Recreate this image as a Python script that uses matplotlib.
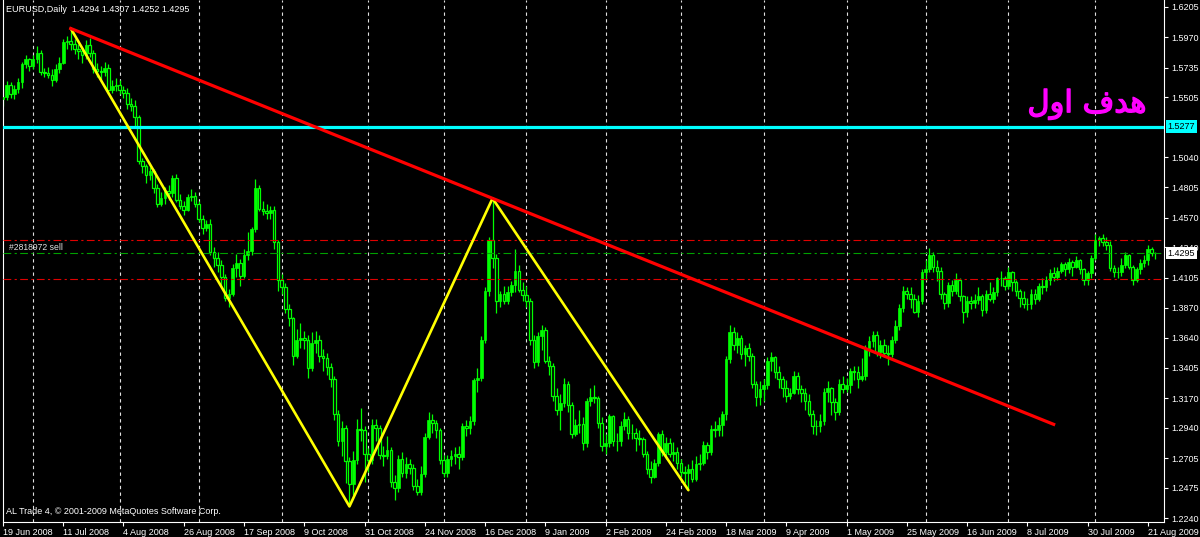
import numpy as np
import pandas as pd
import matplotlib
matplotlib.use("Agg")
import matplotlib.pyplot as plt
import matplotlib.transforms as mtransforms
import matplotlib.patheffects as pe


# ----------------------------------------------------------------------------------------------------------
# DATA  (EURUSD daily, 19 Jun 2008 - 25 Aug 2009, one row per month)
# ----------------------------------------------------------------------------------------------------------

first_open = 1.5490

closes = [
    1.5510, 1.5600, 1.5530, 1.5570, 1.5620, 1.5760, 1.5800, 1.5750,
    1.5800, 1.5850, 1.5700, 1.5690, 1.5680, 1.5640, 1.5720, 1.5770, 1.5930, 1.5940, 1.5920, 1.5880,
    1.5860, 1.5830, 1.5910, 1.5850, 1.5720, 1.5710, 1.5700, 1.5730, 1.5560, 1.5590, 1.5600,
    1.5560, 1.5540, 1.5450, 1.5440, 1.5350, 1.5010, 1.4970, 1.4900, 1.4930, 1.4800, 1.4680, 1.4720,
    1.4780, 1.4760, 1.4880, 1.4710, 1.4660, 1.4630, 1.4730, 1.4740, 1.4680,
    1.4560, 1.4490, 1.4520, 1.4300, 1.4260, 1.4200, 1.4110, 1.3950, 1.3980, 1.4180, 1.4220, 1.4120,
    1.4280, 1.4310, 1.4480, 1.4800, 1.4640, 1.4620, 1.4610, 1.4630, 1.4380, 1.4090,
    1.4030, 1.3860, 1.3790, 1.3500, 1.3620, 1.3640, 1.3620, 1.3400, 1.3600, 1.3620, 1.3500, 1.3480,
    1.3410, 1.3320, 1.3050, 1.2840, 1.2940, 1.2680, 1.2500, 1.2690, 1.2930, 1.2920, 1.2740,
    1.2690, 1.2960, 1.2940, 1.2730, 1.2720, 1.2770, 1.2520, 1.2470, 1.2700, 1.2590, 1.2660, 1.2630,
    1.2490, 1.2440, 1.2580, 1.2870, 1.3000, 1.2980, 1.2920, 1.2690,
    1.2590, 1.2700, 1.2720, 1.2740, 1.2710, 1.2950, 1.2940, 1.2990, 1.3310, 1.3330, 1.3620, 1.4000,
    1.4400, 1.4260, 1.3920, 1.3980, 1.3920, 1.3990, 1.4050, 1.4160, 1.4010, 1.3970,
    1.3920, 1.3620, 1.3450, 1.3650, 1.3700, 1.3460, 1.3420, 1.3190, 1.3080, 1.3130, 1.3280, 1.3120,
    1.2890, 1.2960, 1.2970, 1.2820, 1.3150, 1.3180, 1.3170, 1.2980, 1.2800,
    1.2820, 1.3030, 1.2840, 1.2840, 1.2950, 1.3010, 1.2900, 1.2900, 1.2860, 1.2850, 1.2740, 1.2620,
    1.2560, 1.2670, 1.2890, 1.2750, 1.2820, 1.2740, 1.2750, 1.2670,
    1.2600, 1.2590, 1.2620, 1.2540, 1.2660, 1.2670, 1.2810, 1.2750, 1.2930, 1.2920, 1.2960, 1.3050,
    1.3470, 1.3680, 1.3580, 1.3640, 1.3510, 1.3560, 1.3500, 1.3280, 1.3180, 1.3240,
    1.3270, 1.3460, 1.3490, 1.3370, 1.3320, 1.3250, 1.3190, 1.3210, 1.3340, 1.3240, 1.3210, 1.3150,
    1.3050, 1.2950, 1.2950, 1.2990, 1.3220, 1.3250, 1.3140, 1.3060, 1.3280, 1.3240,
    1.3270, 1.3380, 1.3370, 1.3320, 1.3340, 1.3560, 1.3610, 1.3660, 1.3530, 1.3580, 1.3520, 1.3510,
    1.3620, 1.3730, 1.3870, 1.4000, 1.3980, 1.3940, 1.3840, 1.3920, 1.4150,
    1.4170, 1.4280, 1.4190, 1.4160, 1.3980, 1.3910, 1.4050, 1.4000, 1.4090, 1.3960, 1.3840, 1.3920,
    1.3910, 1.3930, 1.3960, 1.3850, 1.3980, 1.3940, 1.3990, 1.4100, 1.4100, 1.4040,
    1.4150, 1.4070, 1.4000, 1.3950, 1.3900, 1.3900, 1.3980, 1.3940, 1.4040, 1.4030, 1.4090, 1.4140,
    1.4110, 1.4160, 1.4210, 1.4170, 1.4230, 1.4190, 1.4240, 1.4170, 1.4090, 1.4140, 1.4260,
    1.4400, 1.4410, 1.4380, 1.4360, 1.4180, 1.4150, 1.4150, 1.4200, 1.4280, 1.4190, 1.4090, 1.4170,
    1.4220, 1.4240, 1.4330, 1.4294, 1.4295,
]

highs = [
    1.5565, 1.5630, 1.5620, 1.5600, 1.5650, 1.5780, 1.5830, 1.5810,
    1.5830, 1.5900, 1.5870, 1.5730, 1.5740, 1.5720, 1.5760, 1.5820, 1.5960, 1.5980, 1.6038, 1.5960,
    1.5920, 1.5890, 1.5950, 1.5965, 1.5870, 1.5770, 1.5750, 1.5780, 1.5760, 1.5640, 1.5650,
    1.5640, 1.5590, 1.5580, 1.5500, 1.5480, 1.5370, 1.5030, 1.4990, 1.4960, 1.4950, 1.4830, 1.4770,
    1.4810, 1.4820, 1.4900, 1.4910, 1.4750, 1.4700, 1.4750, 1.4790, 1.4770,
    1.4700, 1.4590, 1.4550, 1.4560, 1.4340, 1.4300, 1.4240, 1.4130, 1.4020, 1.4210, 1.4290, 1.4250,
    1.4330, 1.4460, 1.4500, 1.4867, 1.4820, 1.4700, 1.4680, 1.4660, 1.4660, 1.4400,
    1.4130, 1.4060, 1.3900, 1.3800, 1.3710, 1.3750, 1.3690, 1.3660, 1.3680, 1.3690, 1.3660, 1.3550,
    1.3520, 1.3440, 1.3340, 1.3080, 1.2990, 1.2960, 1.2710, 1.2760, 1.3010, 1.3090, 1.2950,
    1.2780, 1.3010, 1.3010, 1.2960, 1.2800, 1.2880, 1.2790, 1.2570, 1.2730, 1.2750, 1.2710, 1.2700,
    1.2660, 1.2540, 1.2640, 1.2900, 1.3060, 1.3050, 1.3000, 1.2940,
    1.2730, 1.2730, 1.2770, 1.2790, 1.2800, 1.2980, 1.3000, 1.3030, 1.3330, 1.3400, 1.3650, 1.4030,
    1.4420, 1.4720, 1.4290, 1.4000, 1.4040, 1.4040, 1.4080, 1.4330, 1.4200, 1.4070,
    1.4040, 1.3950, 1.3660, 1.3680, 1.3740, 1.3720, 1.3500, 1.3440, 1.3250, 1.3200, 1.3330, 1.3300,
    1.3140, 1.3010, 1.3080, 1.3020, 1.3170, 1.3250, 1.3270, 1.3190, 1.3020,
    1.2890, 1.3050, 1.3040, 1.2900, 1.2990, 1.3060, 1.3030, 1.2970, 1.2940, 1.2920, 1.2870, 1.2760,
    1.2680, 1.2700, 1.2910, 1.2920, 1.2870, 1.2860, 1.2830, 1.2790,
    1.2700, 1.2640, 1.2660, 1.2690, 1.2720, 1.2740, 1.2840, 1.2830, 1.2960, 1.2990, 1.3020, 1.3070,
    1.3500, 1.3738, 1.3720, 1.3680, 1.3660, 1.3580, 1.3600, 1.3520, 1.3300, 1.3300,
    1.3320, 1.3490, 1.3530, 1.3500, 1.3420, 1.3340, 1.3310, 1.3250, 1.3380, 1.3370, 1.3270, 1.3250,
    1.3200, 1.3080, 1.3000, 1.3050, 1.3250, 1.3300, 1.3260, 1.3170, 1.3320, 1.3340,
    1.3330, 1.3400, 1.3420, 1.3420, 1.3480, 1.3580, 1.3650, 1.3690, 1.3690, 1.3620, 1.3630, 1.3580,
    1.3650, 1.3780, 1.3900, 1.4040, 1.4030, 1.4030, 1.3980, 1.3970, 1.4170,
    1.4240, 1.4338, 1.4300, 1.4240, 1.4190, 1.3990, 1.4070, 1.4090, 1.4140, 1.4100, 1.3970, 1.3960,
    1.3960, 1.3980, 1.4030, 1.3980, 1.4010, 1.4070, 1.4030, 1.4110, 1.4160, 1.4120,
    1.4190, 1.4160, 1.4090, 1.4020, 1.4000, 1.3950, 1.4020, 1.4020, 1.4060, 1.4100, 1.4120, 1.4170,
    1.4190, 1.4190, 1.4230, 1.4230, 1.4260, 1.4240, 1.4270, 1.4250, 1.4180, 1.4160, 1.4280,
    1.4440, 1.4430, 1.4445, 1.4420, 1.4390, 1.4200, 1.4190, 1.4260, 1.4300, 1.4290, 1.4200, 1.4190,
    1.4250, 1.4280, 1.4360, 1.4340, 1.4307,
]

lows = [
    1.5440, 1.5480, 1.5500, 1.5490, 1.5540, 1.5580, 1.5730, 1.5710,
    1.5720, 1.5770, 1.5680, 1.5660, 1.5650, 1.5590, 1.5620, 1.5690, 1.5760, 1.5880, 1.5870, 1.5840,
    1.5800, 1.5770, 1.5800, 1.5820, 1.5690, 1.5660, 1.5640, 1.5670, 1.5530, 1.5540, 1.5550,
    1.5530, 1.5500, 1.5410, 1.5400, 1.5280, 1.4990, 1.4920, 1.4840, 1.4860, 1.4760, 1.4650, 1.4660,
    1.4680, 1.4710, 1.4730, 1.4690, 1.4640, 1.4590, 1.4620, 1.4700, 1.4650,
    1.4540, 1.4440, 1.4470, 1.4280, 1.4190, 1.4150, 1.4040, 1.3920, 1.3880, 1.3960, 1.4110, 1.4040,
    1.4100, 1.4240, 1.4280, 1.4460, 1.4620, 1.4590, 1.4560, 1.4560, 1.4330, 1.4000,
    1.3980, 1.3830, 1.3730, 1.3430, 1.3480, 1.3560, 1.3550, 1.3330, 1.3380, 1.3520, 1.3450, 1.3380,
    1.3350, 1.3260, 1.3000, 1.2800, 1.2720, 1.2510, 1.2330, 1.2420, 1.2660, 1.2840, 1.2520,
    1.2600, 1.2660, 1.2840, 1.2700, 1.2640, 1.2700, 1.2480, 1.2380, 1.2440, 1.2560, 1.2550, 1.2580,
    1.2460, 1.2420, 1.2420, 1.2560, 1.2850, 1.2900, 1.2860, 1.2660,
    1.2560, 1.2560, 1.2640, 1.2660, 1.2620, 1.2690, 1.2880, 1.2890, 1.2960, 1.3220, 1.3300, 1.3600,
    1.3960, 1.4180, 1.3830, 1.3880, 1.3900, 1.3900, 1.3960, 1.3990, 1.3990, 1.3920,
    1.3880, 1.3580, 1.3400, 1.3420, 1.3540, 1.3440, 1.3350, 1.3150, 1.3040, 1.2920, 1.3100, 1.3060,
    1.2860, 1.2880, 1.2900, 1.2770, 1.2790, 1.3110, 1.3130, 1.2940, 1.2760,
    1.2740, 1.2790, 1.2800, 1.2760, 1.2800, 1.2920, 1.2850, 1.2850, 1.2760, 1.2810, 1.2710, 1.2580,
    1.2510, 1.2550, 1.2640, 1.2720, 1.2700, 1.2710, 1.2680, 1.2620,
    1.2560, 1.2510, 1.2456, 1.2520, 1.2530, 1.2610, 1.2650, 1.2700, 1.2730, 1.2870, 1.2880, 1.2880,
    1.3000, 1.3440, 1.3540, 1.3520, 1.3470, 1.3420, 1.3460, 1.3250, 1.3110, 1.3120,
    1.3150, 1.3240, 1.3380, 1.3330, 1.3250, 1.3180, 1.3140, 1.3160, 1.3200, 1.3200, 1.3140, 1.3080,
    1.3030, 1.2890, 1.2885, 1.2910, 1.2960, 1.3140, 1.3040, 1.3000, 1.3040, 1.3210,
    1.3220, 1.3210, 1.3310, 1.3250, 1.3300, 1.3310, 1.3500, 1.3570, 1.3500, 1.3480, 1.3490, 1.3430,
    1.3490, 1.3600, 1.3700, 1.3840, 1.3940, 1.3870, 1.3830, 1.3800, 1.3900,
    1.4090, 1.4150, 1.4150, 1.4080, 1.3940, 1.3860, 1.3880, 1.3960, 1.3980, 1.3920, 1.3750, 1.3800,
    1.3860, 1.3870, 1.3900, 1.3810, 1.3830, 1.3920, 1.3910, 1.3960, 1.4040, 1.4010,
    1.4020, 1.4000, 1.3960, 1.3880, 1.3870, 1.3850, 1.3860, 1.3900, 1.3920, 1.3980, 1.4000, 1.4050,
    1.4080, 1.4090, 1.4140, 1.4120, 1.4140, 1.4120, 1.4180, 1.4130, 1.4050, 1.4050, 1.4100,
    1.4240, 1.4350, 1.4350, 1.4320, 1.4160, 1.4110, 1.4100, 1.4120, 1.4180, 1.4170, 1.4050, 1.4070,
    1.4130, 1.4190, 1.4200, 1.4270, 1.4252,
]

# days the broker had no bar
holidays = ["2008-12-25", "2009-01-01"]

# price scale labels on the right
price_ticks = [1.6205, 1.5970, 1.5735, 1.5505, 1.5040, 1.4805, 1.4570, 1.4340, 1.4105,
               1.3870, 1.3640, 1.3405, 1.3170, 1.2940, 1.2705, 1.2475, 1.2240]

# drawn objects
target_level = 1.5277            # cyan line
order_price = 1.4295             # green dash-dot, order #2818972
stop_loss = 1.4395
take_profit = 1.4095
bid_price = 1.4295

zigzag_bars = [18, 92, 130, 182]     # high, low, high, low
trend_bars = [18, 130]               # two highs of the red trend line
trend_end_bar = 279


def main():
    o_c = np.array(closes)
    o_h = np.array(highs)
    o_l = np.array(lows)
    o_o = np.concatenate([[first_open], o_c[:-1]])

    days = pd.bdate_range("2008-06-19", "2009-08-25")
    days = days[~days.isin(pd.to_datetime(holidays))]
    xs = np.arange(len(days))

    fig = plt.figure(figsize=(12, 5.37), dpi=100, facecolor="black")
    ax = fig.add_axes([2.5 / 1200, 15 / 537, (1164 - 2.5) / 1200, 522 / 537])
    ax.set_facecolor("black")

    # month separators
    month_start = [i for i in range(1, len(days)) if days[i].month != days[i - 1].month]
    for i in month_start:
        ax.axvline(i, color="#e0e0e0", lw=0.8, ls=(0, (3, 3)), zorder=1)

    # candles
    ax.vlines(xs, o_l, o_h, color="#00ff00", lw=0.9, zorder=2)
    up = o_c >= o_o
    ax.bar(xs[up], (o_c - o_o)[up], bottom=o_o[up], width=0.7,
           color="#00ff00", edgecolor="#00ff00", lw=0.5, zorder=3)
    ax.bar(xs[~up], (o_o - o_c)[~up], bottom=o_c[~up], width=0.7,
           facecolor="black", edgecolor="#00ff00", lw=0.9, zorder=3)

    # order lines
    ax.axhline(stop_loss, color="#e00000", lw=0.8, ls=(0, (7, 3, 2, 3)), zorder=4)
    ax.axhline(take_profit, color="#e00000", lw=0.8, ls=(0, (7, 3, 2, 3)), zorder=4)
    ax.axhline(order_price, color="#00a000", lw=0.8, ls=(0, (7, 3, 2, 3)), zorder=4)
    ax.axhline(target_level, color="#00ffff", lw=2.3, zorder=5)

    # zigzag through the swing points
    zz_price = [o_h[zigzag_bars[0]], o_l[zigzag_bars[1]], o_h[zigzag_bars[2]], o_l[zigzag_bars[3]]]
    ax.plot(zigzag_bars, zz_price, color="#ffff00", lw=1.9, zorder=6, solid_capstyle="round")

    # red trend line over the two highs
    x0, x1 = trend_bars
    slope = (o_h[x1] - o_h[x0]) / (x1 - x0)
    ax.plot([x0, trend_end_bar], [o_h[x0], o_h[x0] + slope * (trend_end_bar - x0)],
            color="#ff0000", lw=2.3, zorder=6)

    ax.set_xlim(-0.13, 308.3)
    ax.set_ylim(1.2209, 1.6259)

    # frame
    for side in ("left", "right", "bottom"):
        ax.spines[side].set_color("white")
        ax.spines[side].set_linewidth(0.8)
    ax.spines["top"].set_visible(False)

    # price scale
    ax.yaxis.tick_right()
    ax.set_yticks(price_ticks)
    ax.set_yticklabels(["%.4f" % p for p in price_ticks])
    ax.tick_params(axis="y", colors="white", length=3, width=0.8, pad=2, labelsize=6.5)

    # time scale
    tick_pos = xs[::16]
    ax.set_xticks(tick_pos)
    ax.set_xticklabels([f"{d.day} {d.strftime('%b %Y')}" for d in days[tick_pos]])
    for lbl in ax.get_xticklabels():
        lbl.set_horizontalalignment("left")
    ax.tick_params(axis="x", colors="white", length=3, width=0.8, pad=1, labelsize=6.5)

    # boxes on the price scale
    trans = mtransforms.blended_transform_factory(ax.transAxes, ax.transData)
    ax.text(1.003, target_level, "%.4f" % target_level, transform=trans, fontsize=6.5,
            color="black", va="center", ha="left",
            bbox=dict(facecolor="#00ffff", edgecolor="none", pad=1.2), clip_on=False, zorder=10)
    ax.text(1.003, bid_price, "%.4f" % bid_price, transform=trans, fontsize=6.5,
            color="black", va="center", ha="left",
            bbox=dict(facecolor="white", edgecolor="none", pad=1.2), clip_on=False, zorder=10)

    # texts
    fig.text(6 / 1200, 1 - 9 / 537, "EURUSD,Daily  1.4294 1.4307 1.4252 1.4295",
             color="white", fontsize=6.5, va="center")
    fig.text(6 / 1200, 1 - 512 / 537, "AL Trade 4, \u00a9 2001-2009 MetaQuotes Software Corp.",
             color="white", fontsize=6.5, va="center")
    ax.text(1.5, order_price + 0.0012, "#2818972 sell", color="#e0e0e0", fontsize=6.2,
            va="bottom", zorder=7)

    # "هدف اول" in shaped presentation forms, visual order
    fig.text(1087 / 1200, 1 - 104 / 537, "\ufedd\ufeed\ufe8d \ufed1\ufeaa\ufeeb",
             color="#ff00ff", fontsize=22, family=["DejaVu Sans"], ha="center", va="center",
             path_effects=[pe.withStroke(linewidth=1.0, foreground="#ff00ff")])

    fig.savefig("out.png", dpi=100, facecolor="black")


plt.rcParams["font.family"] = ["Liberation Sans", "DejaVu Sans"]

if __name__ == "__main__":
    main()
